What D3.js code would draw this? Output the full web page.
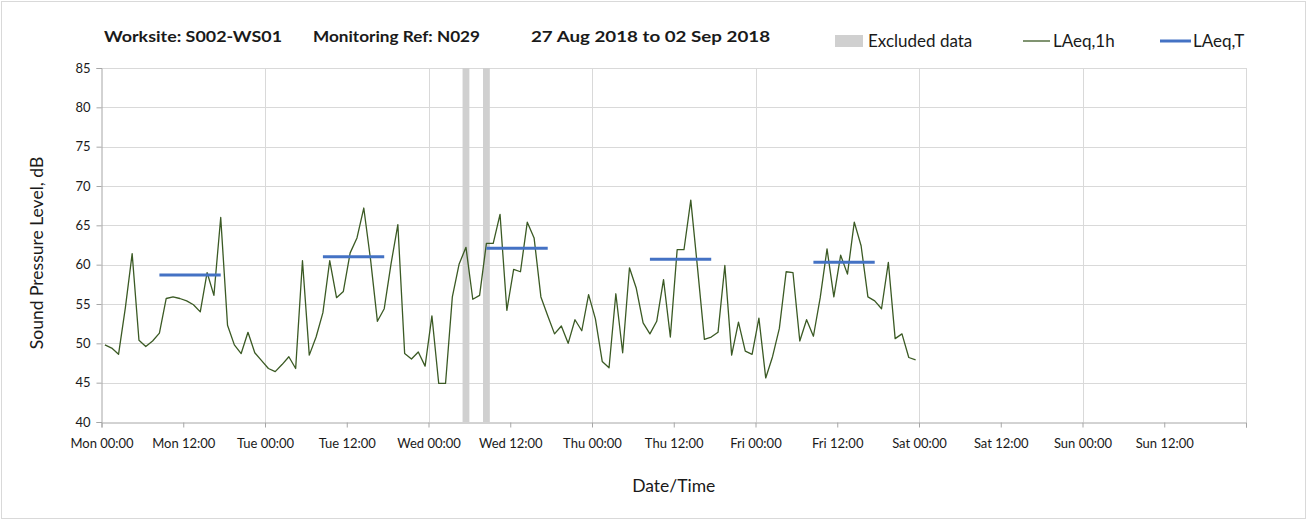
<!DOCTYPE html>
<html lang="en">
<head>
  <meta charset="UTF-8">
  <title>Worksite S002-WS01 - N029</title>
  <script src="https://d3js.org/d3.v7.min.js"></script>
  <style>
    body { margin: 0; background: #fff; }
    svg text { font-family: Lato, "Open Sans", sans-serif; fill: #1a1a1a; }
    .tick-label { font-size: 13px; }
    .axis-title { font-size: 17.5px; }
    .legend-label { font-size: 17px; }
    .title { font-size: 16px; font-weight: bold; }
  </style>
</head>
<body>
  <div id="chart"></div>

  <script>
    const width = 1309;
    const height = 521;

    // hourly LAeq,1h readings, first one is Mon 27 Aug 00:30
    const firstReading = "2018-08-27 00:30";
    const laeq1h = [
      49.8, 49.4, 48.6, 54.5, 61.4, 50.4, 49.6, 50.3, 51.3, 55.7, 55.9, 55.7,
      55.4, 54.9, 54.0, 59.0, 56.1, 66.0, 52.3, 49.8, 48.7, 51.4, 48.8, 47.8,
      46.8, 46.4, 47.3, 48.3, 46.8, 60.5, 48.5, 50.8, 53.9, 60.5, 55.8, 56.6,
      61.5, 63.4, 67.2, 60.6, 52.8, 54.4, 60.1, 65.1, 48.7, 48.0, 48.9, 47.1,
      53.5, 44.9, 44.9, 55.9, 60.1, 62.2, 55.6, 56.1, 62.7, 62.7, 66.4, 54.2,
      59.4, 59.1, 65.4, 63.4, 55.9, 53.5, 51.2, 52.2, 50.0, 53.0, 51.6, 56.2,
      53.1, 47.7, 46.9, 56.3, 48.8, 59.6, 57.0, 52.6, 51.2, 52.8, 58.1, 50.8,
      61.9, 61.9, 68.2, 59.5, 50.5, 50.8, 51.4, 59.9, 48.5, 52.7, 49.0, 48.6,
      53.2, 45.6, 48.3, 51.9, 59.1, 59.0, 50.3, 53.0, 50.9, 55.8, 62.0, 55.9,
      61.2, 58.8, 65.4, 62.4, 55.9, 55.4, 54.4, 60.3, 50.6, 51.2, 48.2, 47.9
    ];

    // daytime LAeq,T
    const laeqTStart = ["2018-08-27 08:30", "2018-08-28 08:30", "2018-08-29 08:30", "2018-08-30 08:30", "2018-08-31 08:30"];
    const laeqTEnd = ["2018-08-27 17:30", "2018-08-28 17:30", "2018-08-29 17:30", "2018-08-30 17:30", "2018-08-31 17:30"];
    const laeqT = [58.7, 61.0, 62.1, 60.7, 60.3];

    // excluded hours
    const excludedStart = ["2018-08-29 05:00", "2018-08-29 08:00"];
    const excludedEnd = ["2018-08-29 06:00", "2018-08-29 09:00"];

    const xDomain = ["2018-08-27 00:00", "2018-09-03 00:00"];
    const yDomain = [40, 85];
    const yTicks = [40, 45, 50, 55, 60, 65, 70, 75, 80, 85];

    const parse = d3.utcParse("%Y-%m-%d %H:%M");

    const margin = { left: 101.5, right: 63, top: 68, bottom: 99 };

    const svg = d3.select("#chart")
      .append("svg")
      .attr("width", width)
      .attr("height", height);

    svg.append("rect")
      .attr("x", 1.5)
      .attr("y", 1.5)
      .attr("width", width - 5)
      .attr("height", height - 4)
      .attr("fill", "#fff")
      .attr("stroke", "#d9d9d9");

    const x = d3.scaleUtc()
      .domain(xDomain.map(parse))
      .range([margin.left, width - margin.right]);

    const y = d3.scaleLinear()
      .domain(yDomain)
      .range([height - margin.bottom, margin.top]);

    // gridlines
    svg.append("g")
      .selectAll("line")
      .data(yTicks.slice(1))
      .enter()
      .append("line")
      .attr("x1", margin.left)
      .attr("x2", width - margin.right)
      .attr("y1", d => Math.round(y(d)) + 0.5)
      .attr("y2", d => Math.round(y(d)) + 0.5)
      .attr("stroke", "#d9d9d9");

    svg.append("g")
      .selectAll("line")
      .data(d3.utcDay.range(d3.utcDay.offset(x.domain()[0], 1), d3.utcDay.offset(x.domain()[1], 1)))
      .enter()
      .append("line")
      .attr("x1", d => Math.round(x(d)) + 0.5)
      .attr("x2", d => Math.round(x(d)) + 0.5)
      .attr("y1", y(yDomain[1]))
      .attr("y2", y(yDomain[0]))
      .attr("stroke", "#d9d9d9");

    // excluded data bands
    svg.append("g")
      .selectAll("rect")
      .data(excludedStart)
      .enter()
      .append("rect")
      .attr("x", d => x(parse(d)))
      .attr("width", (d, i) => x(parse(excludedEnd[i])) - x(parse(d)))
      .attr("y", y(yDomain[1]))
      .attr("height", y(yDomain[0]) - y(yDomain[1]))
      .attr("fill", "#d0d0d0");

    // axes
    const xAxis = d3.axisBottom(x)
      .ticks(d3.utcHour.every(12))
      .tickFormat((d, i, nodes) => i === nodes.length - 1 ? "" : d3.utcFormat("%a %H:%M")(d))
      .tickSize(5);

    const gx = svg.append("g")
      .attr("transform", `translate(0, ${Math.round(y(yDomain[0])) + 0.5})`)
      .call(xAxis);

    const yAxis = d3.axisLeft(y)
      .tickValues(yTicks)
      .tickSize(5);

    const gy = svg.append("g")
      .attr("transform", `translate(${Math.round(margin.left) - 0.5}, 0)`)
      .call(yAxis);

    [gx, gy].forEach(g => {
      g.select(".domain").attr("stroke", "#a6a6a6");
      g.selectAll(".tick line").attr("stroke", "#a6a6a6");
      g.selectAll(".tick text")
        .attr("class", "tick-label")
        .attr("fill", "#1a1a1a")
        .style("font-family", "Lato, sans-serif");
    });
    gx.selectAll(".tick text").attr("dy", "1.35em");
    gy.selectAll(".tick text").attr("x", -11);

    // LAeq,1h line
    const line = d3.line()
      .x((d, i) => x(d3.utcHour.offset(parse(firstReading), i)))
      .y(d => y(d));

    svg.append("path")
      .datum(laeq1h)
      .attr("fill", "none")
      .attr("stroke", "#3b5a24")
      .attr("stroke-width", 1.3)
      .attr("stroke-linejoin", "round")
      .attr("d", line);

    // LAeq,T segments
    svg.append("g")
      .selectAll("line")
      .data(laeqT)
      .enter()
      .append("line")
      .attr("x1", (d, i) => x(parse(laeqTStart[i])))
      .attr("x2", (d, i) => x(parse(laeqTEnd[i])))
      .attr("y1", d => y(d))
      .attr("y2", d => y(d))
      .attr("stroke", "#4472c4")
      .attr("stroke-width", 3);

    // titles
    svg.append("text")
      .attr("class", "axis-title")
      .attr("x", (margin.left + width - margin.right) / 2)
      .attr("y", 492)
      .attr("text-anchor", "middle")
      .text("Date/Time");

    svg.append("text")
      .attr("class", "axis-title")
      .attr("transform", `translate(43, ${(y(yDomain[0]) + y(yDomain[1])) / 2 + 8}) rotate(-90)`)
      .attr("text-anchor", "middle")
      .text("Sound Pressure Level, dB");

    const titleParts = ["Worksite: S002-WS01", "Monitoring Ref: N029", "27 Aug 2018 to 02 Sep 2018"];
    const titleX = [104, 313, 531];
    const titleW = [178, 167, 239];
    svg.append("g")
      .selectAll("text")
      .data(titleParts)
      .enter()
      .append("text")
      .attr("class", "title")
      .attr("x", (d, i) => titleX[i])
      .attr("y", 42)
      .attr("textLength", (d, i) => titleW[i])
      .attr("lengthAdjust", "spacingAndGlyphs")
      .text(d => d);

    // legend
    const legend = svg.append("g");
    legend.append("rect")
      .attr("x", 835).attr("y", 35)
      .attr("width", 28).attr("height", 12)
      .attr("fill", "#d0d0d0");
    legend.append("text")
      .attr("class", "legend-label")
      .attr("x", 868).attr("y", 47)
      .text("Excluded data");

    legend.append("line")
      .attr("x1", 1023).attr("x2", 1050)
      .attr("y1", 41).attr("y2", 41)
      .attr("stroke", "#3b5a24").attr("stroke-width", 1.3);
    legend.append("text")
      .attr("class", "legend-label")
      .attr("x", 1053).attr("y", 47)
      .text("LAeq,1h");

    legend.append("line")
      .attr("x1", 1160).attr("x2", 1191)
      .attr("y1", 41).attr("y2", 41)
      .attr("stroke", "#4472c4").attr("stroke-width", 3);
    legend.append("text")
      .attr("class", "legend-label")
      .attr("x", 1193).attr("y", 47)
      .text("LAeq,T");
  </script>
</body>
</html>
